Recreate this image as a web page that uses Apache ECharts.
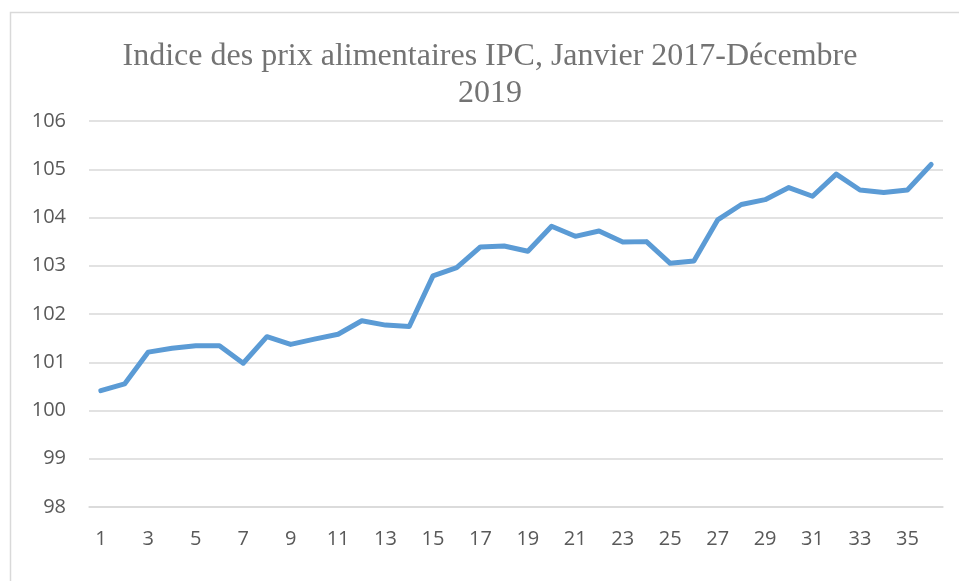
<!DOCTYPE html>
<html>
<head>
<meta charset="utf-8">
<script src="https://cdn.jsdelivr.net/npm/echarts@6/dist/echarts.min.js"></script>
<style>
html,body{margin:0;padding:0;background:#fff;}
#chart{width:959px;height:581px;}
</style>
</head>
<body>
<div id="chart"></div>
<script>
var titleText = 'Indice des prix alimentaires IPC, Janvier 2017-Décembre\n2019';
var categories = ['1','2','3','4','5','6','7','8','9','10','11','12','13','14','15','16','17','18','19','20','21','22','23','24','25','26','27','28','29','30','31','32','33','34','35','36'];
var cpiValues = [100.41,100.55,101.21,101.29,101.34,101.34,100.98,101.53,101.37,101.48,101.58,101.86,101.77,101.74,102.79,102.96,103.39,103.41,103.30,103.82,103.61,103.72,103.49,103.50,103.05,103.10,103.95,104.27,104.37,104.62,104.44,104.90,104.57,104.52,104.57,105.10];
var yMin = 98, yMax = 106, yStep = 1;

var chart = echarts.init(document.getElementById('chart'), null, {renderer:'canvas'});
chart.setOption({
  animation: false,
  backgroundColor: '#ffffff',
  title: {
    text: titleText,
    left: 490,
    top: 38,
    textAlign: 'center',
    padding: 0,
    textStyle: {
      fontFamily: 'Liberation Serif',
      fontWeight: 'normal',
      fontSize: 32,
      color: '#737373',
      lineHeight: 37
    }
  },
  graphic: [{
    type: 'rect',
    shape: {x: 10.5, y: 12.5, width: 960, height: 580},
    style: {fill: 'none', stroke: '#d9d9d9', lineWidth: 1.5},
    silent: true
  }],
  grid: {left: 89, right: 16, top: 121, bottom: 74, containLabel: false},
  xAxis: {
    type: 'category',
    data: categories,
    boundaryGap: true,
    axisLine: {show: true, lineStyle: {color: '#d9d9d9', width: 1.5}},
    axisTick: {show: false},
    axisLabel: {
      interval: 1,
      margin: 22,
      fontFamily: 'Open Sans',
      fontSize: 20,
      color: '#595959'
    },
    splitLine: {show: false}
  },
  yAxis: {
    type: 'value',
    min: yMin,
    max: yMax,
    interval: yStep,
    axisLine: {show: false},
    axisTick: {show: false},
    axisLabel: {
      margin: 23,
      fontFamily: 'Open Sans',
      fontSize: 20,
      color: '#595959'
    },
    splitLine: {lineStyle: {color: '#d9d9d9', width: 1.5}}
  },
  series: [{
    type: 'line',
    data: cpiValues,
    symbol: 'none',
    lineStyle: {color: '#5b9bd5', width: 5, cap: 'round', join: 'round'},
    itemStyle: {color: '#5b9bd5'}
  }]
});
</script>
</body>
</html>
